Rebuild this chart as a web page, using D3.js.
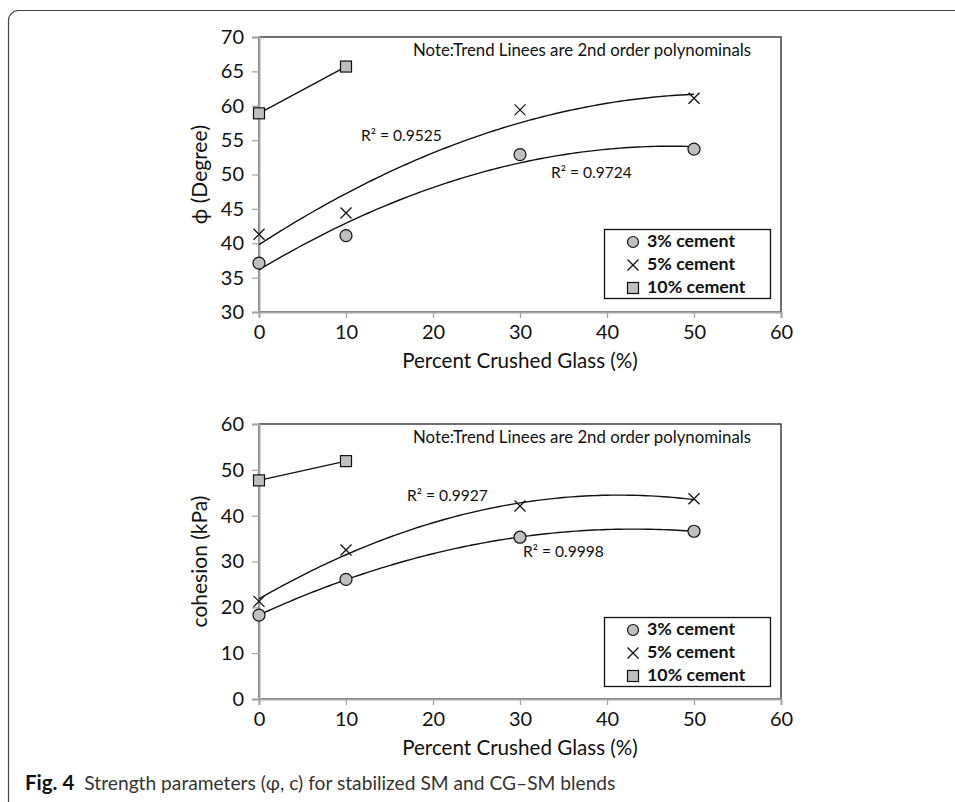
<!DOCTYPE html>
<html>
<head>
<meta charset="utf-8">
<script src="https://cdn.jsdelivr.net/npm/d3@7"></script>
<style>
  html, body { margin: 0; padding: 0; background: #fff; }
  svg { display: block; }
  text { font-family: Lato, "Open Sans", sans-serif; fill: #111; }
</style>
</head>
<body>
<svg id="chart" width="955" height="802"></svg>
<script>
// ---------- data ----------
const glass = [0, 10, 30, 50];
const glass10 = [0, 10];
const seriesNames = ["3% cement", "5% cement", "10% cement"];

const phi3 = [37.1, 41.1, 52.9, 53.7];
const phi5 = [41.3, 44.4, 59.4, 61.1];
const phi10 = [58.9, 65.7];
const phiR2 = ["R² = 0.9525", "R² = 0.9724"];

const coh3 = [18.3, 26.1, 35.3, 36.6];
const coh5 = [21.3, 32.5, 42.1, 43.7];
const coh10 = [47.7, 51.9];
const cohR2 = ["R² = 0.9927", "R² = 0.9998"];

const xTicks = [0, 10, 20, 30, 40, 50, 60];
const phiTicks = [30, 35, 40, 45, 50, 55, 60, 65, 70];
const cohTicks = [0, 10, 20, 30, 40, 50, 60];

const noteText = "Note:Trend Linees are 2nd order polynominals";
const caption = "Strength parameters (φ, c) for stabilized SM and CG–SM blends";

// ---------- helpers ----------
function quadFit(xs, ys) {
  // least squares y = a + b x + c x^2
  let n = xs.length, s = [0,0,0,0,0], t = [0,0,0];
  for (let i = 0; i < n; i++) {
    const x = xs[i], y = ys[i];
    for (let k = 0; k < 5; k++) s[k] += Math.pow(x, k);
    for (let k = 0; k < 3; k++) t[k] += y * Math.pow(x, k);
  }
  const M = [[s[0], s[1], s[2], t[0]], [s[1], s[2], s[3], t[1]], [s[2], s[3], s[4], t[2]]];
  for (let i = 0; i < 3; i++) {
    let p = i;
    for (let r = i + 1; r < 3; r++) if (Math.abs(M[r][i]) > Math.abs(M[p][i])) p = r;
    [M[i], M[p]] = [M[p], M[i]];
    for (let r = 0; r < 3; r++) {
      if (r === i) continue;
      const f = M[r][i] / M[i][i];
      for (let c = i; c < 4; c++) M[r][c] -= f * M[i][c];
    }
  }
  const a = M[0][3] / M[0][0], b = M[1][3] / M[1][1], c = M[2][3] / M[2][2];
  return x => a + b * x + c * x * x;
}

const svg = d3.select("#chart");

// outer frame
svg.append("rect")
  .attr("x", 8.5).attr("y", 10.5).attr("width", 1000).attr("height", 850)
  .attr("rx", 10).attr("ry", 10)
  .attr("fill", "none").attr("stroke", "#444").attr("stroke-width", 1.2);

function drawPanel(cfg) {
  const g = svg.append("g");
  const x = d3.scaleLinear().domain([0, 60]).range([259, 781]);
  const y = d3.scaleLinear().domain(cfg.domain).range([cfg.bottom, cfg.top]);

  // plot area border (top/right dark)
  g.append("rect")
    .attr("x", x(0)).attr("y", cfg.top).attr("width", x(60) - x(0)).attr("height", cfg.bottom - cfg.top)
    .attr("fill", "none").attr("stroke", "#222").attr("stroke-width", 1.3);

  // axes
  const yAxis = g.append("g").attr("transform", `translate(${x(0)},0)`)
    .call(d3.axisLeft(y).tickValues(cfg.ticks).tickSize(7).tickPadding(8).tickFormat(d3.format("d")));
  const xAxis = g.append("g").attr("transform", `translate(0,${cfg.bottom})`)
    .call(d3.axisBottom(x).tickValues(xTicks).tickSize(6).tickPadding(7).tickFormat(d3.format("d")));
  [yAxis, xAxis].forEach(a => {
    a.select(".domain").attr("stroke", "#a6a6a6").attr("stroke-width", 2);
    a.selectAll(".tick line").attr("stroke", "#a6a6a6").attr("stroke-width", 1.3);
    a.selectAll(".tick text").attr("font-size", 20).attr("font-family", "Lato, sans-serif").attr("fill", "#111");
  });

  // axis titles
  g.append("text")
    .attr("transform", `translate(${cfg.yTitleX},${(cfg.top + cfg.bottom) / 2}) rotate(-90)`)
    .attr("text-anchor", "middle").attr("dominant-baseline", "middle")
    .attr("font-size", 21).text(cfg.yTitle);
  g.append("text")
    .attr("x", (x(0) + x(60)) / 2).attr("y", cfg.bottom + 51)
    .attr("text-anchor", "middle").attr("dominant-baseline", "middle")
    .attr("font-size", 20.6).text("Percent Crushed Glass (%)");

  // note
  g.append("text")
    .attr("x", 582).attr("y", cfg.top + 15)
    .attr("text-anchor", "middle").attr("dominant-baseline", "middle")
    .attr("font-size", 16.8).text(noteText);

  // trend lines
  const line = d3.line().x(d => x(d[0])).y(d => y(d[1]));
  [cfg.s3, cfg.s5].forEach(s => {
    const f = quadFit(glass, s);
    const pts = d3.range(0, 50.01, 0.5).map(v => [v, f(v)]);
    g.append("path").attr("d", line(pts)).attr("fill", "none").attr("stroke", "#111").attr("stroke-width", 1.4);
  });
  g.append("path").attr("d", line(glass10.map((v, i) => [v, cfg.s10[i]])))
    .attr("fill", "none").attr("stroke", "#111").attr("stroke-width", 1.4);

  // markers
  g.selectAll(".c3").data(glass.map((v, i) => [v, cfg.s3[i]])).join("circle")
    .attr("cx", d => x(d[0])).attr("cy", d => y(d[1])).attr("r", 6)
    .attr("fill", "#bfbfbf").attr("stroke", "#111").attr("stroke-width", 1.2);
  g.selectAll(".c5").data(glass.map((v, i) => [v, cfg.s5[i]])).join("path")
    .attr("d", d => { const cx = x(d[0]), cy = y(d[1]), s = 5.5;
      return `M${cx - s},${cy - s}L${cx + s},${cy + s}M${cx - s},${cy + s}L${cx + s},${cy - s}`; })
    .attr("stroke", "#111").attr("stroke-width", 1.3).attr("fill", "none");
  g.selectAll(".c10").data(glass10.map((v, i) => [v, cfg.s10[i]])).join("rect")
    .attr("x", d => x(d[0]) - 5.5).attr("y", d => y(d[1]) - 5.5).attr("width", 11).attr("height", 11)
    .attr("fill", "#bfbfbf").attr("stroke", "#111").attr("stroke-width", 1.2);

  // R2 labels
  cfg.r2.forEach((t, i) => {
    g.append("text").attr("x", cfg.r2pos[i][0]).attr("y", cfg.r2pos[i][1])
      .attr("dominant-baseline", "middle").attr("font-size", 15.6).text(t);
  });

  // legend
  const lg = g.append("g");
  lg.append("rect").attr("x", 604.5).attr("y", cfg.legTop + 0.5).attr("width", 166).attr("height", 69)
    .attr("fill", "#fff").attr("stroke", "#111").attr("stroke-width", 1.3);
  seriesNames.forEach((n, i) => {
    const cy = cfg.legTop + 13 + i * 23, cx = 633;
    if (i === 0) lg.append("circle").attr("cx", cx).attr("cy", cy).attr("r", 5.5)
      .attr("fill", "#bfbfbf").attr("stroke", "#111").attr("stroke-width", 1.2);
    if (i === 1) lg.append("path").attr("d", `M${cx - 5.5},${cy - 5.5}L${cx + 5.5},${cy + 5.5}M${cx - 5.5},${cy + 5.5}L${cx + 5.5},${cy - 5.5}`)
      .attr("stroke", "#111").attr("stroke-width", 1.3);
    if (i === 2) lg.append("rect").attr("x", cx - 5.5).attr("y", cy - 5.5).attr("width", 11).attr("height", 11)
      .attr("fill", "#bfbfbf").attr("stroke", "#111").attr("stroke-width", 1.2);
    lg.append("text").attr("x", 647).attr("y", cy).attr("dominant-baseline", "middle")
      .attr("font-size", 17.8).attr("font-weight", "bold").text(n);
  });
}

drawPanel({
  domain: [30, 70], top: 37, bottom: 312, ticks: phiTicks, yTitle: "ϕ (Degree)", yTitleX: 202,
  s3: phi3, s5: phi5, s10: phi10, r2: phiR2, r2pos: [[361, 137], [551, 174]], legTop: 229
});
drawPanel({
  domain: [0, 60], top: 424, bottom: 699, ticks: cohTicks, yTitle: "cohesion (kPa)", yTitleX: 202,
  s3: coh3, s5: coh5, s10: coh10, r2: cohR2, r2pos: [[407, 497], [523, 553]], legTop: 617
});

// caption
const cap = svg.append("text").attr("x", 25).attr("y", 785).attr("dominant-baseline", "middle")
  .attr("font-family", "'Open Sans', sans-serif").attr("font-size", 19.2);
cap.append("tspan").attr("font-weight", "bold").attr("fill", "#111").attr("font-size", 20.5).text("Fig. 4");
cap.append("tspan").attr("dx", 10).attr("fill", "#333").text(caption);
</script>
</body>
</html>
